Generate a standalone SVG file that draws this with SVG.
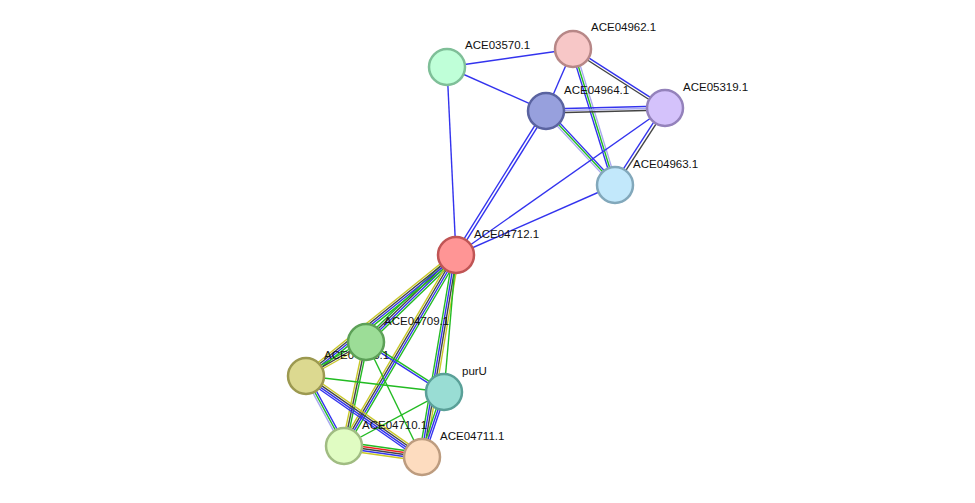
<svg xmlns="http://www.w3.org/2000/svg" width="975" height="503" viewBox="0 0 975 503">
<style>
line{stroke-width:1.4}
.b{stroke:#3333ee}.g{stroke:#22bb22}.k{stroke:#444}.y{stroke:#c8c828}.l{stroke:#a8a8f0}.r{stroke:#ee2222}
circle{stroke-width:2.5}
text{font-family:"Liberation Sans",Arial,sans-serif;font-size:11.5px;fill:#111}
</style>
<rect width="975" height="503" fill="#fff"/>
<g id="edges">
<g transform="translate(447,67) rotate(-8.13)"><line class="b" x1="0" y1="0" x2="127.3" y2="0"/></g>
<g transform="translate(447,67) rotate(23.96)"><line class="b" x1="0" y1="0" x2="108.3" y2="0"/></g>
<g transform="translate(447,67) rotate(87.26)"><line class="b" x1="0" y1="0" x2="188.2" y2="0"/></g>
<g transform="translate(573,49) rotate(113.5)"><line class="b" x1="0" y1="0" x2="67.6" y2="0"/></g>
<g transform="translate(573,49) rotate(32.67)"><line class="b" x1="0" y1="-1" x2="109.3" y2="-1"/><line class="k" x1="0" y1="1.5" x2="109.3" y2="1.5"/></g>
<g transform="translate(573,49) rotate(72.84)"><line class="b" x1="0" y1="2" x2="142.3" y2="2"/><line class="g" x1="0" y1="0" x2="142.3" y2="0"/><line class="l" x1="0" y1="-2" x2="142.3" y2="-2"/></g>
<g transform="translate(546,111) rotate(-1.44)"><line class="b" x1="0" y1="-2" x2="119" y2="-2"/><line class="l" x1="0" y1="0" x2="119" y2="0"/><line class="k" x1="0" y1="2" x2="119" y2="2"/></g>
<g transform="translate(546,111) rotate(47)"><line class="b" x1="0" y1="-2" x2="101.2" y2="-2"/><line class="g" x1="0" y1="0" x2="101.2" y2="0"/><line class="l" x1="0" y1="2" x2="101.2" y2="2"/></g>
<g transform="translate(546,111) rotate(122)"><line class="b" x1="0" y1="-1.2" x2="169.8" y2="-1.2"/><line class="b" x1="0" y1="1.8" x2="169.8" y2="1.8"/></g>
<g transform="translate(665,108) rotate(123)"><line class="k" x1="0" y1="-1.2" x2="91.8" y2="-1.2"/><line class="b" x1="0" y1="1.8" x2="91.8" y2="1.8"/></g>
<g transform="translate(665,108) rotate(144.88)"><line class="b" x1="0" y1="0" x2="255.5" y2="0"/></g>
<g transform="translate(615,185) rotate(156.24)"><line class="b" x1="0" y1="0" x2="173.7" y2="0"/></g>
<g transform="translate(456,255) rotate(135.97)"><line class="g" x1="0" y1="-3" x2="125.2" y2="-3"/><line class="b" x1="0" y1="-1" x2="125.2" y2="-1"/><line class="k" x1="0" y1="1" x2="125.2" y2="1"/><line class="g" x1="0" y1="3" x2="125.2" y2="3"/></g>
<g transform="translate(456,255) rotate(141.1)"><line class="g" x1="0" y1="-3" x2="192.7" y2="-3"/><line class="b" x1="0" y1="-1" x2="192.7" y2="-1"/><line class="k" x1="0" y1="1" x2="192.7" y2="1"/><line class="y" x1="0" y1="3" x2="192.7" y2="3"/></g>
<g transform="translate(456,255) rotate(120.4)"><line class="g" x1="0" y1="-3" x2="221.4" y2="-3"/><line class="b" x1="0" y1="-1" x2="221.4" y2="-1"/><line class="k" x1="0" y1="1" x2="221.4" y2="1"/><line class="y" x1="0" y1="3" x2="221.4" y2="3"/></g>
<g transform="translate(456,255) rotate(99.55)"><line class="y" x1="0" y1="-3" x2="204.8" y2="-3"/><line class="k" x1="0" y1="-1" x2="204.8" y2="-1"/><line class="b" x1="0" y1="1" x2="204.8" y2="1"/><line class="g" x1="0" y1="3" x2="204.8" y2="3"/></g>
<g transform="translate(456,255) rotate(95)"><line class="g" x1="0" y1="0" x2="137.5" y2="0"/></g>
<g transform="translate(366,342) rotate(150.46)"><line class="y" x1="0" y1="-2" x2="69" y2="-2"/><line class="k" x1="0" y1="0" x2="69" y2="0"/><line class="g" x1="0" y1="2" x2="69" y2="2"/></g>
<g transform="translate(366,342) rotate(101.94)"><line class="g" x1="0" y1="-2" x2="106.3" y2="-2"/><line class="k" x1="0" y1="0" x2="106.3" y2="0"/><line class="y" x1="0" y1="2" x2="106.3" y2="2"/></g>
<g transform="translate(366,342) rotate(32.66)"><line class="g" x1="0" y1="-1" x2="92.6" y2="-1"/><line class="b" x1="0" y1="1" x2="92.6" y2="1"/></g>
<g transform="translate(366,342) rotate(64.03)"><line class="g" x1="0" y1="0" x2="127.9" y2="0"/></g>
<g transform="translate(306,376) rotate(6.61)"><line class="g" x1="0" y1="0" x2="138.9" y2="0"/></g>
<g transform="translate(306,376) rotate(61.5)"><line class="b" x1="0" y1="-2" x2="79.6" y2="-2"/><line class="g" x1="0" y1="0" x2="79.6" y2="0"/><line class="l" x1="0" y1="2" x2="79.6" y2="2"/></g>
<g transform="translate(306,376) rotate(34.93)"><line class="y" x1="0" y1="-3" x2="141.5" y2="-3"/><line class="k" x1="0" y1="-1" x2="141.5" y2="-1"/><line class="b" x1="0" y1="1" x2="141.5" y2="1"/><line class="b" x1="0" y1="3" x2="141.5" y2="3"/></g>
<g transform="translate(344,446) rotate(8.03)"><line class="g" x1="0" y1="-4" x2="78.8" y2="-4"/><line class="r" x1="0" y1="-2" x2="78.8" y2="-2"/><line class="k" x1="0" y1="0" x2="78.8" y2="0"/><line class="b" x1="0" y1="2" x2="78.8" y2="2"/><line class="y" x1="0" y1="4" x2="78.8" y2="4"/></g>
<g transform="translate(344,446) rotate(-28.37)"><line class="g" x1="0" y1="0" x2="113.6" y2="0"/></g>
<g transform="translate(422,457) rotate(-71.3)"><line class="g" x1="0" y1="-2" x2="68.6" y2="-2"/><line class="b" x1="0" y1="0" x2="68.6" y2="0"/><line class="b" x1="0" y1="2" x2="68.6" y2="2"/></g>
</g>
<g id="ACE03570.1"><circle cx="447" cy="67" r="18" fill="#bfffd8" stroke="#7fbf98"/><text x="465" y="49">ACE03570.1</text></g>
<g id="ACE04962.1"><circle cx="573" cy="49" r="18" fill="#f7c7c7" stroke="#b78787"/><text x="591" y="31">ACE04962.1</text></g>
<g id="ACE04964.1"><circle cx="546" cy="111" r="18" fill="#97a0dd" stroke="#5a63a0"/><text x="564" y="94">ACE04964.1</text></g>
<g id="ACE05319.1"><circle cx="665" cy="108" r="18" fill="#d4c2fb" stroke="#9482bb"/><text x="683" y="91">ACE05319.1</text></g>
<g id="ACE04963.1"><circle cx="615" cy="185" r="18" fill="#c2e8fb" stroke="#82a8bb"/><text x="633" y="168">ACE04963.1</text></g>
<g id="ACE04712.1"><circle cx="456" cy="255" r="18" fill="#ff9595" stroke="#c05555"/><text x="474" y="238">ACE04712.1</text></g>
<g id="ACE04708.1"><circle cx="306" cy="376" r="18" fill="#dcd990" stroke="#9c9950"/><text x="324" y="359">ACE04708.1</text></g>
<g id="ACE04709.1"><circle cx="366" cy="342" r="18" fill="#9cdd97" stroke="#5ca057"/><text x="384" y="325">ACE04709.1</text></g>
<g id="purU"><circle cx="444" cy="392" r="18" fill="#99ddd4" stroke="#5aa098"/><text x="462" y="375">purU</text></g>
<g id="ACE04710.1"><circle cx="344" cy="446" r="18" fill="#e0fcc2" stroke="#a0bc82"/><text x="362" y="429">ACE04710.1</text></g>
<g id="ACE04711.1"><circle cx="422" cy="457" r="18" fill="#fddcbf" stroke="#bd9c7f"/><text x="440" y="440">ACE04711.1</text></g>
</svg>
